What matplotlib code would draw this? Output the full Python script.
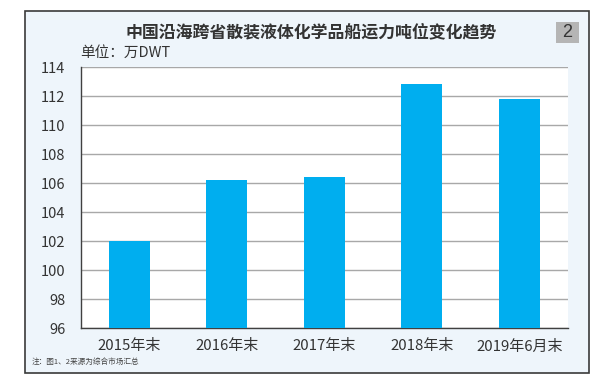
import matplotlib
matplotlib.use("Agg")
import matplotlib.pyplot as plt
from matplotlib.patches import Rectangle

plt.rcParams['font.family'] = ['Noto Sans CJK SC', 'DejaVu Sans']

categories = ["2015年末", "2016年末", "2017年末", "2018年末", "2019年6月末"]
values = [102.0, 106.2, 106.4, 112.85, 111.8]
yticks = [96, 98, 100, 102, 104, 106, 108, 110, 112, 114]
title = "中国沿海跨省散装液体化学品船运力吨位变化趋势"
unit_label = "单位：万DWT"
note = "注：图1、2来源为综合市场汇总"

W, H = 600, 387
fig = plt.figure(figsize=(W / 100, H / 100), dpi=100)
fig.patch.set_facecolor("white")

# outer frame
fig.patches.append(Rectangle((25 / W, 1 - 372.7 / H), 564 / W, 362 / H,
                             transform=fig.transFigure, facecolor="#eef5fb",
                             edgecolor="#3a3a3a", linewidth=1.2, zorder=-2))
# number box
fig.patches.append(Rectangle((555.7 / W, 1 - 42.7 / H), 23.6 / W, 21 / H,
                             transform=fig.transFigure, facecolor="#b5b5b5",
                             edgecolor="none", zorder=-1))
fig.text(567.5 / W, 1 - 32.2 / H, "2", ha="center", va="center",
         fontsize=13, color="#333333", family=['Liberation Sans', 'DejaVu Sans'])

ax = fig.add_axes([80.7 / W, 1 - 328.3 / H, 487.3 / W, 261 / H])
ax.set_zorder(1)
ax.set_facecolor("white")
x = range(len(categories))
ax.bar(x, values, width=0.42, color="#00aeef", zorder=3)
ax.set_xlim(-0.5, len(categories) - 0.5)
ax.set_ylim(96, 114)
ax.set_yticks(yticks)
ax.set_yticklabels([str(t) for t in yticks])
ax.set_xticks(list(x))
ax.set_xticklabels(categories)
ax.yaxis.grid(True, color="#a8a8a8", linewidth=1.0, zorder=0)
ax.set_axisbelow(True)
for s in ["top", "right"]:
    ax.spines[s].set_visible(False)
for s in ["left", "bottom"]:
    ax.spines[s].set_color("#404040")
    ax.spines[s].set_linewidth(1.0)
ax.tick_params(axis="y", length=0, pad=11, labelsize=10.5, labelcolor="#333333")
ax.tick_params(axis="x", length=0, pad=8, labelsize=10.8, labelcolor="#333333")

fig.text(311 / W, 1 - 32 / H, title, ha="center", va="center",
         fontsize=12.2, fontweight="bold", color="#333333")
fig.text(80 / W, 1 - 52.5 / H, unit_label, ha="left", va="center",
         fontsize=10.5, color="#333333")
fig.text(32 / W, 1 - 361.5 / H, note, ha="left", va="center",
         fontsize=5.5, color="#444444")

fig.savefig("out.png", dpi=100, facecolor="white")
